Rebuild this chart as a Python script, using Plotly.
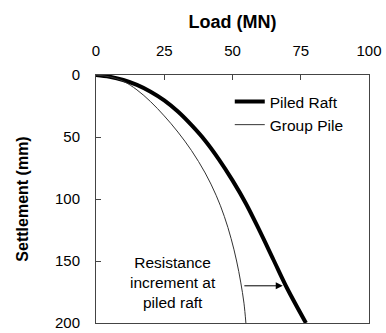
import plotly.graph_objects as go

# Load-settlement curves (load in MN, settlement in mm)
raft_load = [0, 5, 10, 15, 20, 25, 30, 35, 40, 45, 50, 55, 60, 65, 70, 76.9]
raft_settle = [0, 1.4, 4, 8, 13.5, 20.5, 29.5, 40.5, 53, 68, 85, 104, 126, 149, 172, 200]

pile_load = [0, 5, 10, 15, 20, 25, 30, 35, 40, 44, 47, 49.5, 51.5, 53, 54.2, 54.9]
pile_settle = [0, 1.5, 5, 12, 21.5, 33, 46, 61, 79, 97, 114, 132, 150, 167, 184, 200]

x_ticks = [0, 25, 50, 75, 100]
y_ticks = [0, 50, 100, 150, 200]

# Settlement level where the load gain is indicated
arrow_settle = 170
arrow_from = 53.8
arrow_to = 68.4

FONT = "Liberation Sans, Arial, sans-serif"

fig = go.Figure()
fig.add_trace(go.Scatter(
    x=raft_load, y=raft_settle, mode="lines", name="Piled Raft",
    line=dict(color="black", width=4, shape="spline", smoothing=1),
))
fig.add_trace(go.Scatter(
    x=pile_load, y=pile_settle, mode="lines", name="Group Pile",
    line=dict(color="#333333", width=1, shape="spline", smoothing=1),
))

fig.add_annotation(
    x=28.2, y=167.5, xref="x", yref="y",
    text="Resistance<br>increment at<br>piled raft",
    showarrow=False, align="center",
    font=dict(family=FONT, size=15.5, color="black"),
)
fig.add_annotation(
    x=arrow_to, y=arrow_settle, ax=arrow_from, ay=arrow_settle,
    xref="x", yref="y", axref="x", ayref="y",
    text="", showarrow=True, arrowhead=2, arrowsize=1.4,
    arrowwidth=1, arrowcolor="black",
)

fig.update_layout(
    width=386, height=333,
    margin=dict(l=96, r=17, t=75, b=10),
    paper_bgcolor="white", plot_bgcolor="white",
    font=dict(family=FONT, size=15, color="black"),
    showlegend=True,
    legend=dict(
        x=0.49, y=0.96, xanchor="left", yanchor="top",
        bgcolor="rgba(0,0,0,0)", borderwidth=0,
        font=dict(family=FONT, size=15.5, color="black"),
        tracegroupgap=0, itemwidth=30,
    ),
    xaxis=dict(
        side="top", range=[0, 100], tickvals=x_ticks,
        ticks="inside", ticklen=5, tickcolor="#444444",
        showline=True, linecolor="#444444", linewidth=1, mirror=True,
        showgrid=False, zeroline=False, ticklabelstandoff=12,
        automargin=False,
        title=dict(text="<b>Load (MN)</b>", font=dict(size=18), standoff=8),
    ),
    yaxis=dict(
        range=[200, 0], tickvals=y_ticks,
        ticks="inside", ticklen=5, tickcolor="#444444",
        showline=True, linecolor="#444444", linewidth=1, mirror=True,
        showgrid=False, zeroline=False, ticklabelstandoff=12,
        automargin=False,
        title=dict(text="<b>Settlement (mm)</b>", font=dict(size=16), standoff=22),
    ),
)

fig.write_html("out.html")
